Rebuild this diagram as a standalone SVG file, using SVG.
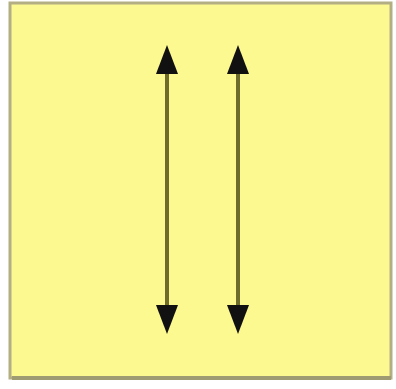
<svg xmlns="http://www.w3.org/2000/svg" width="396" height="389" viewBox="0 0 396 389">
<style>
.box{fill:#fdf991;stroke:#b3ae84;stroke-width:3}
.conn{stroke:#6e6c2c;stroke-width:4;fill:none}
.head{fill:#111}
</style>
<rect width="396" height="389" fill="#ffffff"/>
<g id="frame">
<rect class="box" x="10" y="3" width="381" height="375"/>
<line x1="12" y1="378" x2="391" y2="378" stroke="#9e9b72" stroke-width="4"/>
</g>
<g id="connectors">
<line class="conn" x1="167" y1="68" x2="167" y2="310"/>
<polygon class="head" points="167,45 156,74 178,74"/>
<polygon class="head" points="167,334 156,305 178,305"/>
<line class="conn" x1="238" y1="68" x2="238" y2="310"/>
<polygon class="head" points="238,45 227,74 249,74"/>
<polygon class="head" points="238,334 227,305 249,305"/>
</g>
</svg>
